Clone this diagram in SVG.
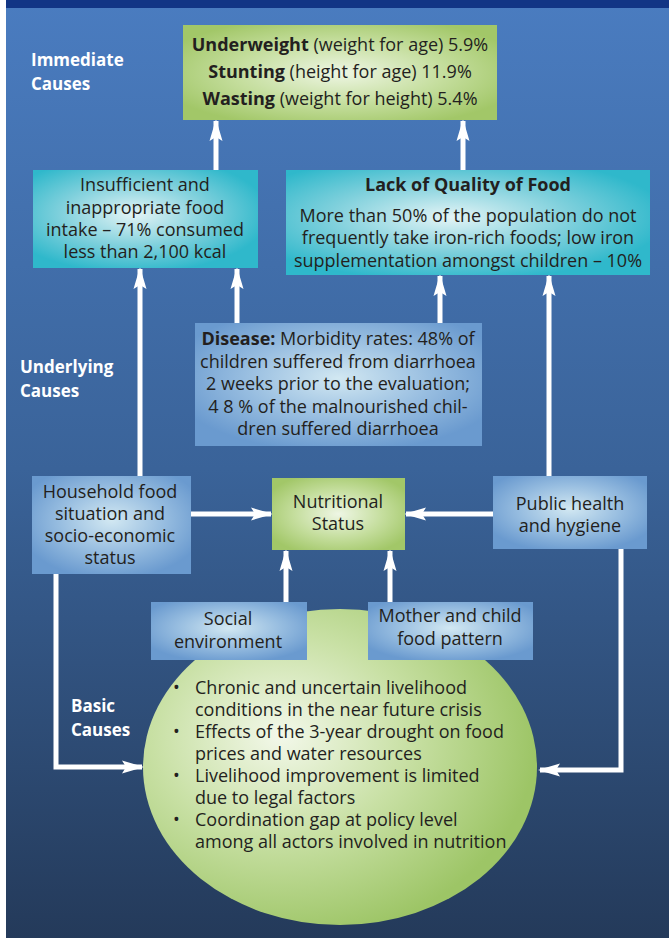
<svg xmlns="http://www.w3.org/2000/svg" width="669" height="941" viewBox="0 0 669 941">
<defs>
<linearGradient id="bg" x1="0" y1="0" x2="0" y2="1">
<stop offset="0" stop-color="#4a7cc0"/>
<stop offset="0.5" stop-color="#3a6399"/>
<stop offset="1" stop-color="#243a5a"/>
</linearGradient>
<radialGradient id="gGreen" cx="0.5" cy="0.5" r="0.6">
<stop offset="0" stop-color="#eef6e4"/>
<stop offset="0.55" stop-color="#c5de9e"/>
<stop offset="1" stop-color="#a2c768"/>
</radialGradient>
<radialGradient id="gCyan" cx="0.45" cy="0.45" r="0.6">
<stop offset="0" stop-color="#e4f4f6"/>
<stop offset="0.55" stop-color="#7fd0dc"/>
<stop offset="1" stop-color="#2fb8cb"/>
</radialGradient>
<radialGradient id="gBlue" cx="0.5" cy="0.45" r="0.6">
<stop offset="0" stop-color="#d2e8f2"/>
<stop offset="0.55" stop-color="#97bde0"/>
<stop offset="1" stop-color="#6a9acf"/>
</radialGradient>
<radialGradient id="gEll" cx="0.35" cy="0.4" r="0.65">
<stop offset="0" stop-color="#f3f8ea"/>
<stop offset="0.5" stop-color="#c8e0a4"/>
<stop offset="1" stop-color="#9dc566"/>
</radialGradient>
<marker id="ah" markerUnits="userSpaceOnUse" markerWidth="22" markerHeight="14" viewBox="0 0 22 14" refX="20" refY="7" orient="auto">
<path d="M0,0.5 L22,7 L0,13.5 L4,7 Z" fill="#fff"/>
</marker>
<style>
text{font-family:"Open Sans","Liberation Sans",Arial,sans-serif;fill:#231f20;font-size:18px;text-anchor:middle}
.lbl{fill:#fff;font-weight:bold;font-size:17px;text-anchor:start}
.b{font-weight:bold}
.bl{text-anchor:start;font-size:18px}
.conn path{fill:none;stroke:#fff;stroke-width:5}
</style>
</defs>
<rect x="0" y="0" width="669" height="941" fill="#ffffff"/>
<rect x="6" y="0" width="663" height="938" fill="url(#bg)"/>
<rect x="6" y="0" width="663" height="8" fill="#123585"/>

<g id="labels">
<text class="lbl" x="31" y="66">Immediate</text>
<text class="lbl" x="31" y="90">Causes</text>
<text class="lbl" x="20" y="373">Underlying</text>
<text class="lbl" x="20" y="397">Causes</text>
<text class="lbl" x="71" y="712">Basic</text>
<text class="lbl" x="71" y="736">Causes</text>
</g>

<g id="ellipse-basic">
<ellipse cx="340" cy="767" rx="197" ry="158" fill="url(#gEll)"/>
<text class="bl" x="173" y="694">•</text>
<text class="bl" x="195" y="694">Chronic and uncertain livelihood</text>
<text class="bl" x="195" y="716">conditions in the near future crisis</text>
<text class="bl" x="173" y="738">•</text>
<text class="bl" x="195" y="738">Effects of the 3-year drought on food</text>
<text class="bl" x="195" y="760">prices and water resources</text>
<text class="bl" x="173" y="782">•</text>
<text class="bl" x="195" y="782">Livelihood improvement is limited</text>
<text class="bl" x="195" y="804">due to legal factors</text>
<text class="bl" x="173" y="826">•</text>
<text class="bl" x="195" y="826">Coordination gap at policy level</text>
<text class="bl" x="195" y="848">among all actors involved in nutrition</text>
</g>

<g class="conn" id="connectors">
<path d="M216,170 L216,121" marker-end="url(#ah)"/>
<path d="M463,170 L463,121" marker-end="url(#ah)"/>
<path d="M140,476 L140,269" marker-end="url(#ah)"/>
<path d="M237,323 L237,269" marker-end="url(#ah)"/>
<path d="M440,323 L440,276" marker-end="url(#ah)"/>
<path d="M549,476 L549,276" marker-end="url(#ah)"/>
<path d="M191,514 L271,514" marker-end="url(#ah)"/>
<path d="M493,514 L406,514" marker-end="url(#ah)"/>
<path d="M286,602 L286,551" marker-end="url(#ah)"/>
<path d="M390,602 L390,551" marker-end="url(#ah)"/>
<path d="M56,574 L56,767 L142,767" marker-end="url(#ah)"/>
<path d="M621,549 L621,770 L540,770" marker-end="url(#ah)"/>
</g>

<g id="node-outcome">
<rect x="183" y="25" width="314" height="95" fill="url(#gGreen)"/>
<text x="340" y="51"><tspan class="b">Underweight</tspan> (weight for age) 5.9%</text>
<text x="340" y="78"><tspan class="b">Stunting</tspan> (height for age) 11.9%</text>
<text x="340" y="105"><tspan class="b">Wasting</tspan> (weight for height) 5.4%</text>
</g>

<g id="node-intake">
<rect x="33" y="170" width="225" height="98" fill="url(#gCyan)"/>
<text x="145" y="191">Insufficient and</text>
<text x="145" y="214">inappropriate food</text>
<text x="145" y="236">intake – 71% consumed</text>
<text x="145" y="258">less than 2,100 kcal</text>
</g>

<g id="node-quality">
<rect x="286" y="170" width="364" height="105" fill="url(#gCyan)"/>
<text x="468" y="191" class="b">Lack of Quality of Food</text>
<text x="468" y="222">More than 50% of the population do not</text>
<text x="468" y="244">frequently take iron-rich foods; low iron</text>
<text x="468" y="267">supplementation amongst children – 10%</text>
</g>

<g id="node-disease">
<rect x="195" y="323" width="287" height="123" fill="url(#gBlue)"/>
<text x="338" y="345"><tspan class="b">Disease:</tspan> Morbidity rates: 48% of</text>
<text x="338" y="368">children suffered from diarrhoea</text>
<text x="338" y="390">2 weeks prior to the evaluation;</text>
<text x="338" y="413">4 8 % of the malnourished chil-</text>
<text x="338" y="435">dren suffered diarrhoea</text>
</g>

<g id="node-household">
<rect x="32" y="476" width="159" height="98" fill="url(#gBlue)"/>
<text x="110" y="498">Household food</text>
<text x="110" y="520">situation and</text>
<text x="110" y="542">socio-economic</text>
<text x="110" y="564">status</text>
</g>

<g id="node-nutritional">
<rect x="272" y="478" width="133" height="72" fill="url(#gGreen)"/>
<text x="338" y="508">Nutritional</text>
<text x="338" y="530">Status</text>
</g>

<g id="node-public">
<rect x="493" y="476" width="154" height="73" fill="url(#gBlue)"/>
<text x="570" y="510">Public health</text>
<text x="570" y="532">and hygiene</text>
</g>

<g id="node-social">
<rect x="151" y="602" width="156" height="58" fill="url(#gBlue)"/>
<text x="228" y="625">Social</text>
<text x="228" y="648">environment</text>
</g>

<g id="node-mother">
<rect x="368" y="602" width="165" height="58" fill="url(#gBlue)"/>
<text x="450" y="622">Mother and child</text>
<text x="450" y="645">food pattern</text>
</g>
</svg>
